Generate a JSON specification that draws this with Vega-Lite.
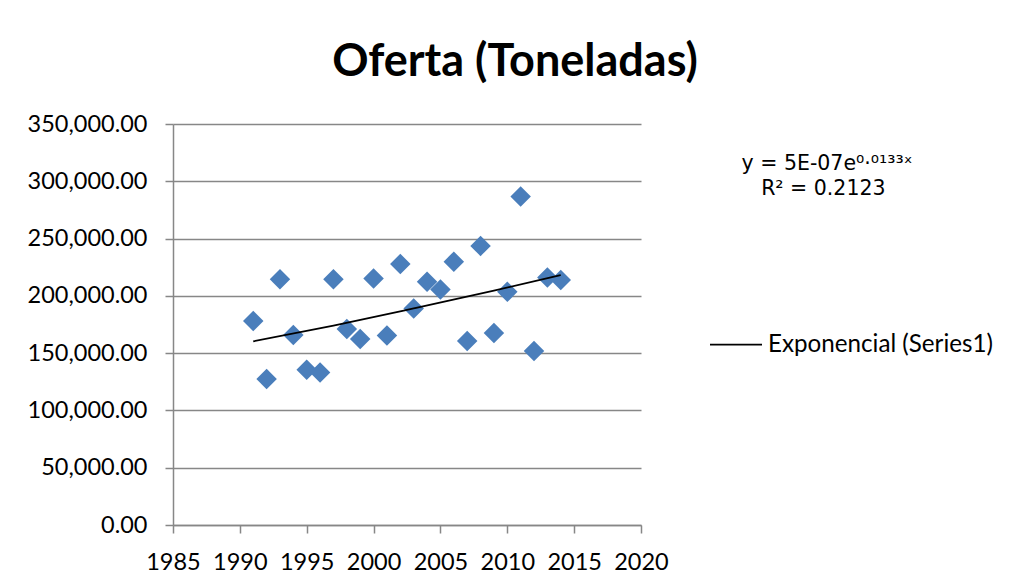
{
  "$schema": "https://vega.github.io/schema/vega-lite/v6.json",
  "autosize": {"type": "none"},
  "width": 468,
  "height": 401,
  "padding": {"left": 173, "top": 124, "right": 373, "bottom": 59},
  "background": "white",
  "title": {
    "text": "Oferta (Toneladas)",
    "font": "Lato",
    "fontSize": 45,
    "fontWeight": "bold",
    "color": "black",
    "anchor": "middle",
    "frame": "group",
    "dx": 108,
    "offset": 27
  },
  "datasets": {
    "oferta": [
      {"year": 1991, "value": 178100},
      {"year": 1992, "value": 127500},
      {"year": 1993, "value": 214600},
      {"year": 1994, "value": 165800},
      {"year": 1995, "value": 135400},
      {"year": 1996, "value": 133100},
      {"year": 1997, "value": 214600},
      {"year": 1998, "value": 171100},
      {"year": 1999, "value": 162300},
      {"year": 2000, "value": 215200},
      {"year": 2001, "value": 165500},
      {"year": 2002, "value": 227800},
      {"year": 2003, "value": 189000},
      {"year": 2004, "value": 212300},
      {"year": 2005, "value": 205600},
      {"year": 2006, "value": 229800},
      {"year": 2007, "value": 160500},
      {"year": 2008, "value": 243600},
      {"year": 2009, "value": 167500},
      {"year": 2010, "value": 203500},
      {"year": 2011, "value": 286700},
      {"year": 2012, "value": 151800},
      {"year": 2013, "value": 216100},
      {"year": 2014, "value": 213800}
    ],
    "tendencia": [
      {"year": 1991, "value": 160300},
      {"year": 1997, "value": 174000},
      {"year": 2003, "value": 189000},
      {"year": 2009, "value": 204500},
      {"year": 2014, "value": 218200}
    ]
  },
  "encoding": {
    "x": {
      "field": "year",
      "type": "quantitative",
      "scale": {"domain": [1985, 2020], "nice": false, "zero": false},
      "axis": {
        "title": null,
        "values": [1985, 1990, 1995, 2000, 2005, 2010, 2015, 2020],
        "format": "d",
        "grid": false,
        "labelPadding": 17,
        "labelFlush": false
      }
    },
    "y": {
      "field": "value",
      "type": "quantitative",
      "scale": {"domain": [0, 350000], "nice": false},
      "axis": {
        "title": null,
        "values": [0, 50000, 100000, 150000, 200000, 250000, 300000, 350000],
        "format": ",.2f",
        "grid": true,
        "labelPadding": 18
      }
    }
  },
  "layer": [
    {
      "data": {"name": "oferta"},
      "mark": {"type": "point", "shape": "diamond", "filled": true, "size": 420, "color": "#4A7EBB", "opacity": 1}
    },
    {
      "data": {"name": "tendencia"},
      "mark": {"type": "line", "color": "black", "strokeWidth": 1.75, "interpolate": "monotone"},
      "encoding": {
        "stroke": {
          "datum": "Exponencial (Series1)",
          "scale": {"range": ["black"]},
          "legend": {
            "orient": "none",
            "legendX": 536,
            "legendY": 30,
            "padding": 0,
            "symbolType": "stroke",
            "symbolSize": 2704,
            "symbolStrokeWidth": 1.75,
            "symbolStrokeColor": "black",
            "labelFont": "Lato",
            "labelFontSize": 24.2,
            "labelColor": "black",
            "labelOffset": 5,
            "labelLimit": 400,
            "title": [
              "\u200b\u00a0\u00a0\u00a0\u00a0\u00a0y = 5E-07e\u2070\u00b7\u2070\u00b9\u00b3\u00b3\u02e3",
              "\u200b\u00a0\u00a0\u00a0\u00a0\u00a0\u00a0\u00a0\u00a0R\u00b2 = 0.2123"
            ],
            "titleFont": "DejaVu Sans",
            "titleFontSize": 20.5,
            "titleFontWeight": "normal",
            "titleColor": "black",
            "titleLineHeight": 25,
            "titleAlign": "left",
            "titleAnchor": "start",
            "titlePadding": 118,
            "titleLimit": 400
          }
        }
      }
    }
  ],
  "config": {
    "view": {"stroke": null},
    "font": "Lato",
    "axis": {
      "labelFont": "Lato",
      "labelFontSize": 23.5,
      "labelColor": "black",
      "domainColor": "#878787",
      "domainWidth": 1.5,
      "tickColor": "#878787",
      "tickWidth": 1.5,
      "tickSize": 8,
      "gridColor": "#878787",
      "gridWidth": 1.5,
      "gridOpacity": 1
    }
  }
}
